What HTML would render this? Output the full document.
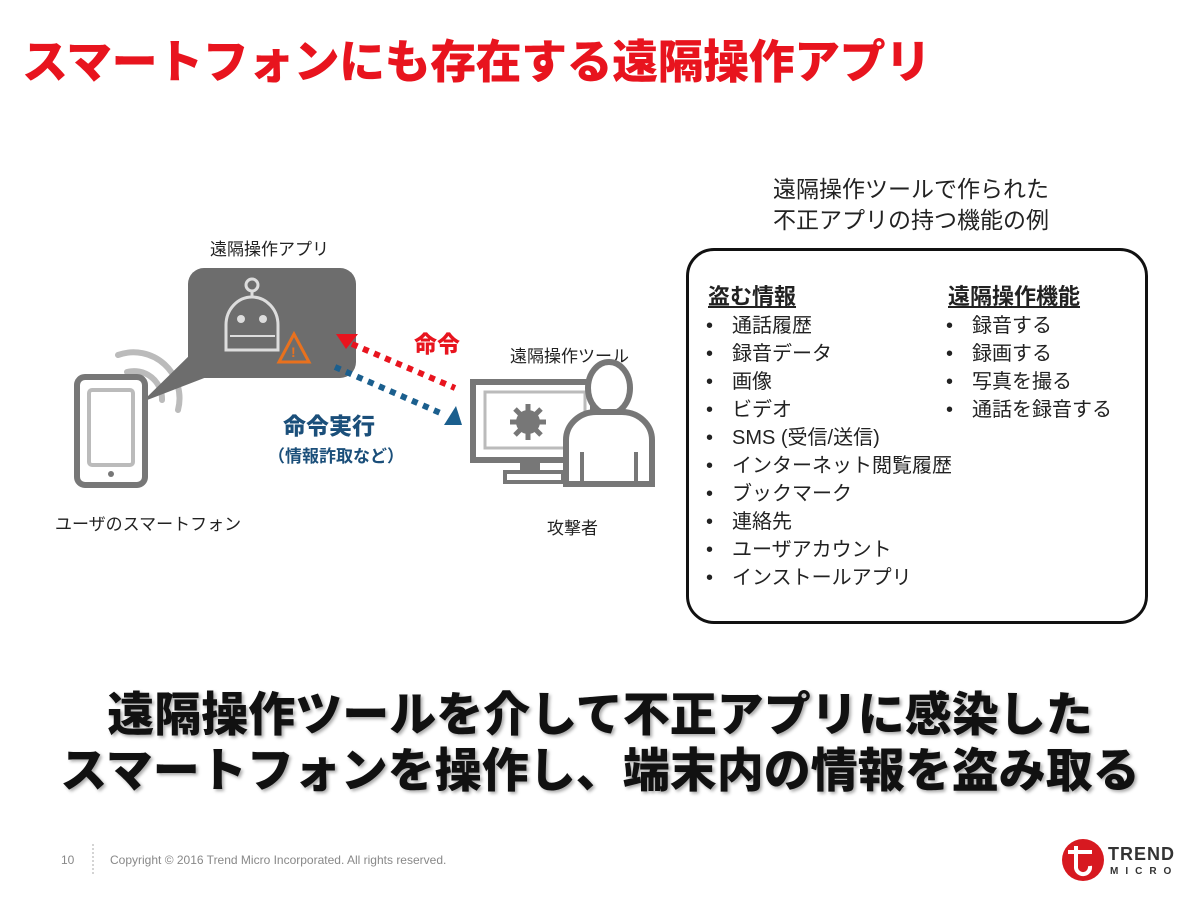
<!DOCTYPE html>
<html><head><meta charset="utf-8"><style>
body{margin:0;width:1200px;height:900px;background:#fff;position:relative;overflow:hidden;font-family:"Liberation Sans","Noto Sans CJK JP",sans-serif;color:#222}
.a{position:absolute;white-space:nowrap}
.title{left:22px;top:26px;font-size:46px;font-weight:900;color:#e8141e;letter-spacing:-0.5px}
.box{position:absolute;left:686px;top:248px;width:456px;height:370px;border:3px solid #111;border-radius:28px}
.list{font-size:20px;line-height:28px}
.list div:before{content:"•";display:inline-block;width:26px;margin-left:-2px}
.h{font-size:22px;font-weight:bold;text-decoration:underline;line-height:30px}
.big{font-size:47px;font-weight:900;color:#111;text-align:center;width:1200px;left:0;text-shadow:2px 2px 3px #aaa}
</style></head><body>
<div class="a title">スマートフォンにも存在する遠隔操作アプリ</div>

<div class="a" style="left:773px;top:174px;font-size:23px;line-height:31px">遠隔操作ツールで作られた<br>不正アプリの持つ機能の例</div>
<div class="box"></div>
<div class="a" style="left:708px;top:282px">
<div class="h">盗む情報</div>
<div class="list"><div>通話履歴</div><div>録音データ</div><div>画像</div><div>ビデオ</div><div>SMS (受信/送信)</div><div>インターネット閲覧履歴</div><div>ブックマーク</div><div>連絡先</div><div>ユーザアカウント</div><div>インストールアプリ</div></div>
</div>
<div class="a" style="left:948px;top:282px">
<div class="h">遠隔操作機能</div>
<div class="list"><div>録音する</div><div>録画する</div><div>写真を撮る</div><div>通話を録音する</div></div>
</div>

<div class="a" style="left:210px;top:235px;font-size:17px">遠隔操作アプリ</div>
<div class="a" style="left:510px;top:342px;font-size:17px">遠隔操作ツール</div>
<div class="a" style="left:55px;top:510px;font-size:17px">ユーザのスマートフォン</div>
<div class="a" style="left:547px;top:514px;font-size:17px">攻撃者</div>
<div class="a" style="left:414px;top:325px;font-size:23px;font-weight:900;color:#e8141e">命令</div>
<div class="a" style="left:283px;top:407px;font-size:23px;font-weight:900;color:#1b4f7a">命令実行</div>
<div class="a" style="left:268px;top:442px;font-size:17px;font-weight:bold;color:#1b4f7a">（情報詐取など）</div>

<svg class="a" style="left:0;top:0" width="1200" height="900">
 <!-- waves -->
 <path d="M127 372 A28 28 0 0 1 162 400" stroke="#bbb" stroke-width="6" fill="none" stroke-linecap="round"/>
 <path d="M118 355 A46 46 0 0 1 178 410" stroke="#bbb" stroke-width="6" fill="none" stroke-linecap="round"/>
 <!-- bubble -->
 <rect x="188" y="268" width="168" height="110" rx="16" fill="#6d6d6d"/>
 <polygon points="195,350 225,370 142,402" fill="#6d6d6d"/>
 <!-- robot -->
 <circle cx="252" cy="285" r="6" fill="none" stroke="#ddd" stroke-width="3"/>
 <line x1="252" y1="291" x2="252" y2="297" stroke="#ddd" stroke-width="3"/>
 <path d="M226 350 L226 325 A26 28 0 0 1 278 325 L278 350 Z" fill="none" stroke="#ddd" stroke-width="3"/>
 <circle cx="241" cy="319" r="4" fill="#ddd"/><circle cx="263" cy="319" r="4" fill="#ddd"/>
 <line x1="230" y1="336" x2="275" y2="336" stroke="#ddd" stroke-width="2"/>
 <polygon points="294,334 279,362 309,362" fill="#6d6d6d" stroke="#e8711e" stroke-width="3"/>
 <text x="291" y="357" font-size="14" fill="#e8711e" font-weight="bold">!</text>
 <!-- phone -->
 <rect x="77" y="377" width="68" height="108" rx="8" fill="#fff" stroke="#777" stroke-width="6"/>
 <rect x="89" y="390" width="44" height="75" rx="3" fill="none" stroke="#bbb" stroke-width="4"/>
 <circle cx="111" cy="474" r="3" fill="#777"/>
 <!-- arrows -->
 <line x1="352" y1="344" x2="455" y2="388" stroke="#e8141e" stroke-width="6" stroke-dasharray="6,6"/>
 <polygon points="336,334 358,334 346,349" fill="#e8141e"/>
 <line x1="335" y1="367" x2="445" y2="415" stroke="#1b5f8e" stroke-width="6" stroke-dasharray="6,6"/>
 <polygon points="444,425 462,425 456,406" fill="#1b5f8e"/>
 <!-- monitor -->
 <rect x="473" y="382" width="120" height="78" fill="none" stroke="#777" stroke-width="6"/>
 <rect x="485" y="392" width="100" height="56" fill="none" stroke="#bbb" stroke-width="3"/>
 <circle cx="528" cy="422" r="12" fill="#777"/>
 <g stroke="#777" stroke-width="5"><line x1="528" y1="404" x2="528" y2="440"/><line x1="510" y1="422" x2="546" y2="422"/><line x1="515" y1="409" x2="541" y2="435"/><line x1="541" y1="409" x2="515" y2="435"/></g>
 <rect x="520" y="462" width="20" height="10" fill="#777"/>
 <rect x="505" y="472" width="58" height="10" fill="none" stroke="#777" stroke-width="4"/>
 <!-- person -->
 <ellipse cx="609" cy="388" rx="21" ry="26" fill="#fff" stroke="#777" stroke-width="6"/>
 <path d="M566 484 L566 440 A30 28 0 0 1 596 412 L622 412 A30 28 0 0 1 652 440 L652 484 Z" fill="#fff" stroke="#777" stroke-width="6"/>
 <line x1="582" y1="452" x2="582" y2="484" stroke="#777" stroke-width="4"/>
 <line x1="636" y1="452" x2="636" y2="484" stroke="#777" stroke-width="4"/>
 <!-- footer -->
 <line x1="93" y1="844" x2="93" y2="876" stroke="#aaa" stroke-dasharray="2,2"/>
 <circle cx="1083" cy="860" r="21" fill="#d71920"/>
 <path d="M1076 846 L1076 868 A6 6 0 0 0 1090 866 M1068 852 L1092 852" stroke="#fff" stroke-width="4" fill="none"/>
</svg>

<div class="a big" style="top:676px">遠隔操作ツールを介して不正アプリに感染した</div>
<div class="a big" style="top:732px">スマートフォンを操作し、端末内の情報を盗み取る</div>

<div class="a" style="left:61px;top:853px;font-size:12px;color:#888">10</div>
<div class="a" style="left:110px;top:853px;font-size:12px;color:#888">Copyright © 2016 Trend Micro Incorporated. All rights reserved.</div>
<div class="a" style="left:1108px;top:844px;font-size:18px;font-weight:900;color:#333;letter-spacing:1px">TREND</div>
<div class="a" style="left:1110px;top:866px;font-size:10px;font-weight:bold;color:#333;letter-spacing:7px">MICRO</div>
</body></html>
